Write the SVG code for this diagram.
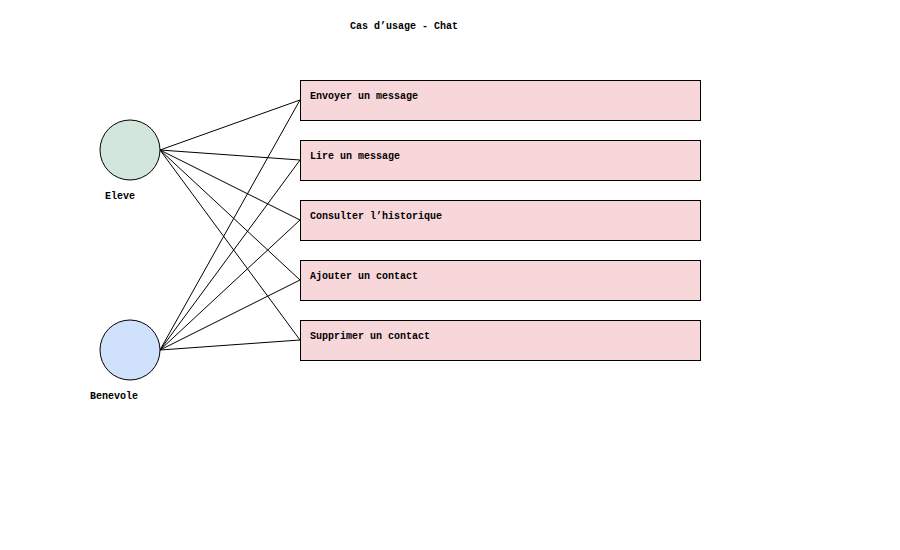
<svg xmlns="http://www.w3.org/2000/svg" width="900" height="550" viewBox="0 0 900 550">
<style>
text{font-family:"Liberation Mono","DejaVu Sans Mono",monospace;font-size:10px;font-weight:bold;fill:#000}
.box{fill:#f8d7da;stroke:#000;stroke-width:1}
.actor{stroke:#000;stroke-width:1}
#connectors line{stroke:#000;stroke-width:1}
</style>
<rect width="900" height="550" fill="#fff"/>
<text x="350" y="29">Cas d’usage - Chat</text>
<g id="connectors">
<line x1="160" y1="150" x2="300" y2="100"/>
<line x1="160" y1="150" x2="300" y2="160"/>
<line x1="160" y1="150" x2="300" y2="220"/>
<line x1="160" y1="150" x2="300" y2="280"/>
<line x1="160" y1="150" x2="300" y2="340"/>
<line x1="160" y1="350" x2="300" y2="100"/>
<line x1="160" y1="350" x2="300" y2="160"/>
<line x1="160" y1="350" x2="300" y2="220"/>
<line x1="160" y1="350" x2="300" y2="280"/>
<line x1="160" y1="350" x2="300" y2="340"/>
</g>
<g id="eleve">
<circle class="actor" cx="130" cy="150" r="30" fill="#d2e6dc"/>
<text x="105" y="199">Eleve</text>
</g>
<g id="benevole">
<circle class="actor" cx="130" cy="350" r="30" fill="#cfe1fb"/>
<text x="90" y="399">Benevole</text>
</g>
<g id="uc1"><rect class="box" x="300.5" y="80.5" width="400" height="40"/><text x="310" y="99">Envoyer un message</text></g>
<g id="uc2"><rect class="box" x="300.5" y="140.5" width="400" height="40"/><text x="310" y="159">Lire un message</text></g>
<g id="uc3"><rect class="box" x="300.5" y="200.5" width="400" height="40"/><text x="310" y="219">Consulter l’historique</text></g>
<g id="uc4"><rect class="box" x="300.5" y="260.5" width="400" height="40"/><text x="310" y="279">Ajouter un contact</text></g>
<g id="uc5"><rect class="box" x="300.5" y="320.5" width="400" height="40"/><text x="310" y="339">Supprimer un contact</text></g>
</svg>
